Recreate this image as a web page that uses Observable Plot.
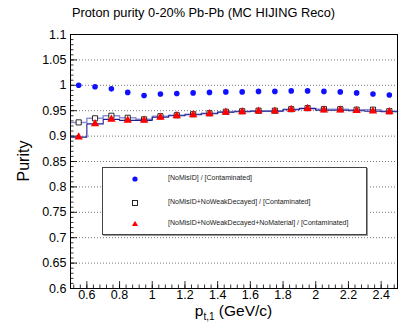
<!DOCTYPE html>
<html><head><meta charset="utf-8">
<script src="https://cdn.jsdelivr.net/npm/d3@7"></script>
<script src="https://cdn.jsdelivr.net/npm/@observablehq/plot@0.6"></script>
<style>
body{margin:0;background:#fff;font-family:"Liberation Sans",Arial,sans-serif;}
#wrap{position:relative;width:407px;height:335px;overflow:hidden;}
#legend{position:absolute;left:102px;top:167px;width:263px;height:66px;border:1px solid #444;box-shadow:1px 1px 0 #999;background:#fff;}
.item{position:absolute;left:0;width:263px;height:12px;font-size:7px;color:#222;}
.item svg{position:absolute;left:26px;top:0;}
.item span{position:absolute;left:65px;top:1px;white-space:nowrap;}
</style></head><body><div id="wrap"></div>
<script>
// bin centres (GeV/c)
const pt = [0.55,0.65,0.75,0.85,0.95,1.05,1.15,1.25,1.35,1.45,1.55,1.65,1.75,1.85,1.95,2.05,2.15,2.25,2.35,2.45];
const binHalf = 0.05;
// [NoMisID] / [Contaminated]
const noMisID = [1.000,0.997,0.993,0.986,0.980,0.983,0.984,0.985,0.986,0.987,0.987,0.988,0.988,0.989,0.989,0.988,0.987,0.985,0.983,0.981];
// [NoMisID+NoWeakDecayed] / [Contaminated]
const noWeak = [0.927,0.935,0.940,0.936,0.933,0.939,0.941,0.943,0.945,0.948,0.949,0.950,0.950,0.953,0.955,0.953,0.953,0.952,0.952,0.949];
const noWeakErr = [0.001,0.001,0.001,0.001,0.001,0.001,0.001,0.001,0.0015,0.0015,0.0015,0.002,0.002,0.002,0.0025,0.003,0.003,0.0035,0.004,0.004];
// [NoMisID+NoWeakDecayed+NoMaterial] / [Contaminated]
const noMat = [0.898,0.924,0.933,0.931,0.931,0.937,0.940,0.942,0.944,0.947,0.948,0.949,0.949,0.952,0.954,0.951,0.951,0.950,0.949,0.948];
const noMatErr = [0.001,0.001,0.001,0.001,0.001,0.001,0.001,0.001,0.0015,0.0015,0.0015,0.002,0.002,0.002,0.0025,0.003,0.003,0.0035,0.004,0.0045];

const xTicks = [0.6,0.8,1,1.2,1.4,1.6,1.8,2,2.2,2.4];
const yTicks = [0.6,0.65,0.7,0.75,0.8,0.85,0.9,0.95,1,1.05,1.1];
const xMinor = d3.range(0.52, 2.5, 0.04);
const yMinor = d3.range(0.6, 1.1, 0.01);

const legendLabels = ["[NoMisID] / [Contaminated]","[NoMisID+NoWeakDecayed] / [Contaminated]","[NoMisID+NoWeakDecayed+NoMaterial] / [Contaminated]"];
const title = "Proton purity 0-20% Pb-Pb (MC HIJING Reco)";

const rows = pt.map((x,i)=>({x, a:noMisID[i], b:noWeak[i], be:noWeakErr[i], c:noMat[i], ce:noMatErr[i]}));
const stepB = rows.flatMap(d=>[{x:d.x-binHalf,y:d.b},{x:d.x+binHalf,y:d.b}]);
const stepC = rows.flatMap(d=>[{x:d.x-binHalf,y:d.c},{x:d.x+binHalf,y:d.c}]);

const W = 407, H = 335;
const navy = "#1f1f8f", lav = "#8f8fd8";
const plot = Plot.plot({
  width: W, height: H,
  marginLeft: 70, marginRight: 10, marginTop: 34, marginBottom: 47,
  style: {fontFamily: "'Liberation Sans', Arial, sans-serif", fontSize: "12.5px", background: "white", overflow: "visible"},
  x: {domain: [0.5, 2.5], label: null},
  y: {domain: [0.6, 1.1], label: null},
  marks: [
    Plot.gridY(yTicks.slice(1,-1), {stroke: "#777", strokeOpacity: 1, strokeDasharray: "1,2"}),
    Plot.axisX(xMinor, {tickSize: -3.5, text: null, strokeWidth: 0.8}),
    Plot.axisY(yMinor, {tickSize: -3.5, text: null, strokeWidth: 0.8}),
    Plot.axisX(xTicks, {tickSize: -7, tickPadding: 9, tickFormat: d=>String(d), strokeWidth: 0.8}),
    Plot.axisY(yTicks, {tickSize: -7, tickPadding: 11, tickFormat: d=>String(d), strokeWidth: 0.8}),
    Plot.line(stepB, {x: "x", y: "y", stroke: lav, strokeWidth: 1.5}),
    Plot.line(stepC, {x: "x", y: "y", stroke: navy, strokeWidth: 1.1}),
    Plot.ruleX(rows, {x: "x", y1: d=>d.b-d.be, y2: d=>d.b+d.be, stroke: lav, strokeWidth: 1}),
    Plot.ruleX(rows, {x: "x", y1: d=>d.c-d.ce, y2: d=>d.c+d.ce, stroke: navy, strokeWidth: 1}),
    Plot.dot(rows, {x: "x", y: "a", r: 2.8, fill: "#1010ff", stroke: "none"}),
    Plot.dot(rows, {x: "x", y: "b", symbol: "square", r: 2.9, fill: "white", stroke: "#111", strokeWidth: 0.9}),
    Plot.dot(rows, {x: "x", y: "c", symbol: "triangle", r: 3.1, fill: "#ff0000", stroke: "none"}),
    Plot.frame({stroke: "#000", strokeWidth: 1})
  ]
});

const svg = d3.select(plot);
const xs = plot.scale("x"), ys = plot.scale("y");
const cx = (xs.range[0] + xs.range[1]) / 2;
const cy = (ys.range[0] + ys.range[1]) / 2;
svg.append("text").attr("x", W/2).attr("y", 17).attr("text-anchor", "middle")
  .attr("font-size", "12.8px").attr("fill", "#000").text(title);
const xl = svg.append("text").attr("x", cx).attr("y", 316).attr("text-anchor", "middle")
  .attr("font-size", "15.5px").attr("fill", "#000");
xl.append("tspan").text("p");
xl.append("tspan").attr("font-size", "10px").attr("dy", 4).text("t,1");
xl.append("tspan").attr("dy", -4).text(" (GeV/c)");
svg.append("text").attr("transform", `translate(29,${cy}) rotate(-90)`).attr("text-anchor", "middle")
  .attr("font-size", "16px").attr("fill", "#000").text("Purity");

const wrap = document.getElementById("wrap");
wrap.appendChild(plot);

// legend
const leg = document.createElement("div");
leg.id = "legend";
const markers = [
  '<svg width="12" height="12"><circle cx="6" cy="6" r="2.6" fill="#1010ff"/></svg>',
  '<svg width="12" height="12"><rect x="3.5" y="3.5" width="5" height="5" fill="white" stroke="#111" stroke-width="0.9"/></svg>',
  '<svg width="12" height="12"><path d="M6,2.8 L9,8 L3,8 Z" fill="#ff0000"/></svg>'
];
const tops = [5, 29, 50];
legendLabels.forEach((lab, i) => {
  const it = document.createElement("div");
  it.className = "item";
  it.style.top = tops[i] + "px";
  it.innerHTML = markers[i] + "<span>" + lab + "</span>";
  leg.appendChild(it);
});
wrap.appendChild(leg);
</script>
</body></html>
